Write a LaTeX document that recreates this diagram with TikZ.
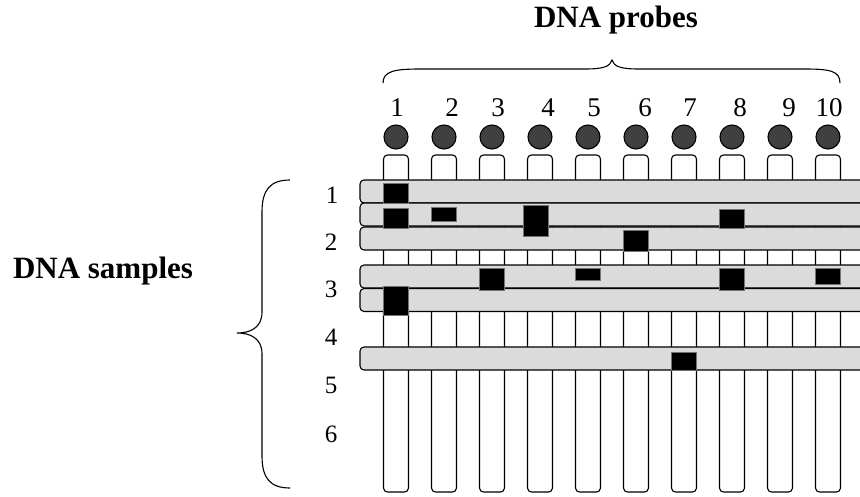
\documentclass[tikz,border=0pt]{standalone}
\usepackage{fontspec}
\setmainfont{Liberation Serif}
\usepackage{tikz}

\begin{document}
\begin{tikzpicture}[x=1pt,y=-1pt,
    column/.style={draw,fill=white,line width=1.1pt,rounded corners=4pt,inner sep=0pt,minimum width=25pt,minimum height=337pt},
    dot/.style={circle,draw,fill=black!75,line width=1.1pt,inner sep=0pt,minimum size=24pt},
    band/.style={draw,fill=black!14,line width=1.1pt,rounded corners=4pt,inner sep=0pt,minimum width=520pt,minimum height=23pt},
    spot/.style={draw=black!55,fill=black,line width=0.6pt,inner sep=0pt,minimum width=25pt},
    probenum/.style={anchor=base,inner sep=0pt,font=\fontsize{27}{30}\selectfont},
    samplenum/.style={anchor=base,inner sep=0pt,font=\fontsize{25}{28}\selectfont},
    title/.style={anchor=base,inner sep=0pt,font=\fontsize{31}{34}\selectfont\bfseries}]
    \useasboundingbox (0,0) rectangle (860,496);
    \clip (0,0) rectangle (860,496);
    \node[title] (probes) at (616,27) {DNA probes};
    \node[title] (samples) at (103,278) {DNA samples};
    \node[probenum] (n1) at (397,116) {1};
    \node[probenum] (n2) at (452,116) {2};
    \node[probenum] (n3) at (498,116) {3};
    \node[probenum] (n4) at (548,116) {4};
    \node[probenum] (n5) at (594,116) {5};
    \node[probenum] (n6) at (645,116) {6};
    \node[probenum] (n7) at (690,116) {7};
    \node[probenum] (n8) at (740,116) {8};
    \node[probenum] (n9) at (789,116) {9};
    \node[probenum] (n10) at (829,116) {10};
    \node[dot] (d1) at (396,137) {};
    \node[dot] (d2) at (444,137) {};
    \node[dot] (d3) at (492,137) {};
    \node[dot] (d4) at (540,137) {};
    \node[dot] (d5) at (588,137) {};
    \node[dot] (d6) at (636,137) {};
    \node[dot] (d7) at (684,137) {};
    \node[dot] (d8) at (732,137) {};
    \node[dot] (d9) at (780,137) {};
    \node[dot] (d10) at (828,137) {};
    \node[column] (c1) at (396,323.5) {};
    \node[column] (c2) at (444,323.5) {};
    \node[column] (c3) at (492,323.5) {};
    \node[column] (c4) at (540,323.5) {};
    \node[column] (c5) at (588,323.5) {};
    \node[column] (c6) at (636,323.5) {};
    \node[column] (c7) at (684,323.5) {};
    \node[column] (c8) at (732,323.5) {};
    \node[column] (c9) at (780,323.5) {};
    \node[column] (c10) at (828,323.5) {};
    \node[band] (b1) at (620,191.5) {};
    \node[band] (b2) at (620,214.5) {};
    \node[band] (b3) at (620,238.5) {};
    \node[band] (b4) at (620,276.5) {};
    \node[band] (b5) at (620,300) {};
    \node[band] (b6) at (620,358.5) {};
    \node[spot,minimum height=20pt] (h1) at (396,193) {};
    \node[spot,minimum height=20pt] (h2) at (396,218) {};
    \node[spot,minimum height=14pt] (h3) at (444,214) {};
    \node[spot,minimum height=31pt] (h4) at (536,220.5) {};
    \node[spot,minimum height=19pt] (h5) at (732,218.5) {};
    \node[spot,minimum height=21pt] (h6) at (636,240.5) {};
    \node[spot,minimum height=22pt] (h7) at (492,279) {};
    \node[spot,minimum height=12pt] (h8) at (588,274) {};
    \node[spot,minimum height=22pt] (h9) at (732,279) {};
    \node[spot,minimum height=16pt] (h10) at (828,276) {};
    \node[spot,minimum height=29pt] (h11) at (396,300.5) {};
    \node[spot,minimum height=18pt] (h12) at (684,361) {};
    \node[samplenum] (m1) at (332,203) {1};
    \node[samplenum] (m2) at (331,250) {2};
    \node[samplenum] (m3) at (331,297) {3};
    \node[samplenum] (m4) at (331,345) {4};
    \node[samplenum] (m5) at (331,393) {5};
    \node[samplenum] (m6) at (331,442) {6};
    \draw[line width=1.1pt] (383,83) .. controls (383,71) and (395,69) .. (420,69) -- (585,69)
        .. controls (605,69) and (610,66) .. (612,60) .. controls (614,66) and (619,69) .. (639,69)
        -- (805,69) .. controls (830,69) and (840,71) .. (840,83);
    \draw[line width=1.1pt] (290,180) .. controls (270,180) and (262,190) .. (262,212) -- (262,312)
        .. controls (262,328) and (250,333) .. (237,333) .. controls (250,333) and (262,338) .. (262,354)
        -- (262,456) .. controls (262,478) and (270,488) .. (290,488);
  \end{tikzpicture}
\end{document}
